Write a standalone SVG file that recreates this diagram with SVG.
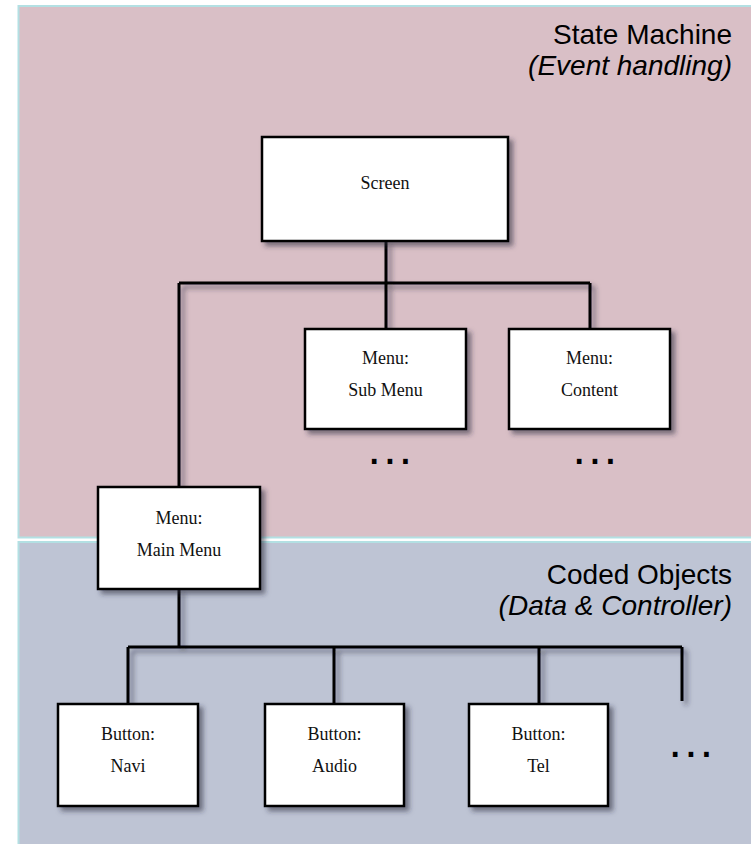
<svg xmlns="http://www.w3.org/2000/svg" width="751" height="844" viewBox="0 0 751 844">
  <defs>
    <filter id="shadow" x="-20%" y="-20%" width="140%" height="140%">
      <feDropShadow dx="4" dy="4" stdDeviation="2.5" flood-color="#2a2a3a" flood-opacity="0.55"/>
    </filter>
    <style>
      .panel-top { fill: #d9bfc6; stroke: #b3e0e3; stroke-width: 2; }
      .panel-bottom { fill: #bec4d4; stroke: #b3e0e3; stroke-width: 2; }
      .title { font-family: "Liberation Sans", Arial, sans-serif; font-size: 28px; fill: #000; text-anchor: end; }
      .subtitle { font-style: italic; }
      .box { fill: #fff; stroke: #000; stroke-width: 2.5; filter: url(#shadow); }
      .label { font-family: "Liberation Serif", "Times New Roman", serif; font-size: 18px; fill: #111; text-anchor: middle; }
      .wire { fill: none; stroke: #000; stroke-width: 3; filter: url(#shadow); }
      .more { font-family: "Liberation Sans", Arial, sans-serif; font-size: 48px; letter-spacing: 2.2px; fill: #000; }
    </style>
  </defs>

  <!-- background panels -->
  <rect class="panel-top" x="18.5" y="6" width="740" height="531.5"/>
  <rect class="panel-bottom" x="18.5" y="542" width="740" height="310"/>

  <text class="title" x="732" y="44">State Machine</text>
  <text class="title subtitle" x="732" y="75">(Event handling)</text>
  <text class="title" x="732" y="584">Coded Objects</text>
  <text class="title subtitle" x="732" y="615">(Data &amp; Controller)</text>

  <!-- connectors -->
  <g id="connectors">
    <path class="wire" d="M386 241 V283 M179 283 H590 M386 283 V329 M590 283 V329 M179 283 V487"/>
    <path class="wire" d="M179 589 V647 M128 647 H682 M128 647 V704 M334 647 V704 M539 647 V704 M682 647 V701"/>
  </g>

  <g id="screen">
    <rect class="box" x="262" y="137" width="246" height="104"/>
    <text class="label" x="385" y="189">Screen</text>
  </g>

  <g id="sub-menu">
    <rect class="box" x="305" y="329" width="161" height="100"/>
    <text class="label" x="385.5" y="364">Menu:</text>
    <text class="label" x="385.5" y="396">Sub Menu</text>
  </g>

  <g id="content-menu">
    <rect class="box" x="509" y="329" width="161" height="100"/>
    <text class="label" x="589.5" y="364">Menu:</text>
    <text class="label" x="589.5" y="396">Content</text>
  </g>

  <g id="main-menu">
    <rect class="box" x="98" y="487" width="162" height="102"/>
    <text class="label" x="179" y="524">Menu:</text>
    <text class="label" x="179" y="556">Main Menu</text>
  </g>

  <g id="button-navi">
    <rect class="box" x="58" y="704" width="140" height="102"/>
    <text class="label" x="128" y="740">Button:</text>
    <text class="label" x="128" y="772">Navi</text>
  </g>

  <g id="button-audio">
    <rect class="box" x="265" y="704" width="139" height="102"/>
    <text class="label" x="334.5" y="740">Button:</text>
    <text class="label" x="334.5" y="772">Audio</text>
  </g>

  <g id="button-tel">
    <rect class="box" x="469" y="704" width="139" height="102"/>
    <text class="label" x="538.5" y="740">Button:</text>
    <text class="label" x="538.5" y="772">Tel</text>
  </g>

  <!-- continuation marks -->
  <text class="more" x="367.6" y="464">...</text>
  <text class="more" x="572.6" y="464">...</text>
  <text class="more" x="668.6" y="756.5">...</text>
</svg>
